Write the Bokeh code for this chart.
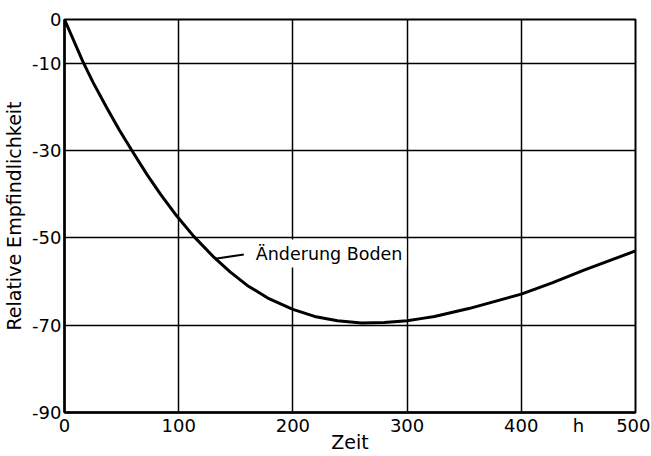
from bokeh.plotting import figure
from bokeh.models import FixedTicker, Label, Range1d
from bokeh.embed import file_html
from bokeh.resources import INLINE

# data
zeit = [0, 16, 25, 37, 48, 59, 72, 84, 98, 113, 131, 145, 160, 178, 200,
        219, 239, 260, 280, 300, 312, 324, 354, 400, 427, 456, 500]
empf = [0, -9.6, -14.4, -20.2, -25.3, -30, -35.4, -40, -44.9, -49.6, -54.5,
        -57.8, -60.9, -63.8, -66.4, -68, -69, -69.5, -69.4, -69, -68.5, -68,
        -66.2, -62.9, -60.3, -57.3, -53]
x_ticks = [0, 100, 200, 300, 400, 450, 500]
x_tick_text = {450: "h"}
x_grid = [100, 200, 300, 400]
y_ticks = [0, -10, -30, -50, -70, -90]
y_grid = [-10, -30, -50, -70]
series_label = "Änderung Boden"
leader_x = [132, 157]
leader_y = [-54.8, -53.8]
label_x, label_y = 164, -53.6

FONT = "DejaVu Sans"

p = figure(width=650, height=455, output_backend="svg", toolbar_location=None,
           x_range=Range1d(0, 500), y_range=Range1d(-90, 0),
           min_border_left=0, min_border_right=15, min_border_top=19,
           min_border_bottom=0)
p.title.visible = False
p.background_fill_color = "white"
p.border_fill_color = "white"
p.outline_line_color = "black"
p.outline_line_width = 2

p.xaxis.ticker = FixedTicker(ticks=x_ticks)
p.xaxis.major_label_overrides = x_tick_text
p.yaxis.ticker = FixedTicker(ticks=y_ticks)
p.yaxis.major_label_overrides = {t: str(t) for t in y_ticks}
p.xgrid.ticker = FixedTicker(ticks=x_grid)
p.ygrid.ticker = FixedTicker(ticks=y_grid)
for g in (p.xgrid, p.ygrid):
    g.grid_line_color = "black"
    g.grid_line_width = 1.5
    g.grid_line_alpha = 1

p.xaxis.axis_label = "Zeit"
p.yaxis.axis_label = "Relative Empfindlichkeit"
for ax in (p.xaxis, p.yaxis):
    ax.axis_line_width = 2.5
    ax.axis_line_color = "black"
    ax.major_tick_line_color = None
    ax.minor_tick_line_color = None
    ax.major_tick_out = 0
    ax.major_tick_in = 0
    ax.minor_tick_out = 0
    ax.minor_tick_in = 0
    ax.major_label_text_font = FONT
    ax.major_label_text_font_size = "18px"
    ax.major_label_text_color = "black"
    ax.axis_label_text_font = FONT
    ax.axis_label_text_font_size = "19px"
    ax.axis_label_text_font_style = "normal"
    ax.axis_label_text_color = "black"
p.xaxis.major_label_standoff = 2
p.xaxis.axis_label_standoff = -8
p.yaxis.major_label_standoff = 3
p.yaxis.axis_label_standoff = 4

p.line(zeit, empf, line_color="black", line_width=3, line_join="round")
p.line(leader_x, leader_y, line_color="black", line_width=2)

p.add_layout(Label(x=label_x, y=label_y, text=series_label,
                   text_font=FONT, text_font_size="17.5px",
                   text_color="black", text_baseline="middle",
                   background_fill_color="white", padding=4))

open("out.html", "w").write(file_html(p, INLINE))
